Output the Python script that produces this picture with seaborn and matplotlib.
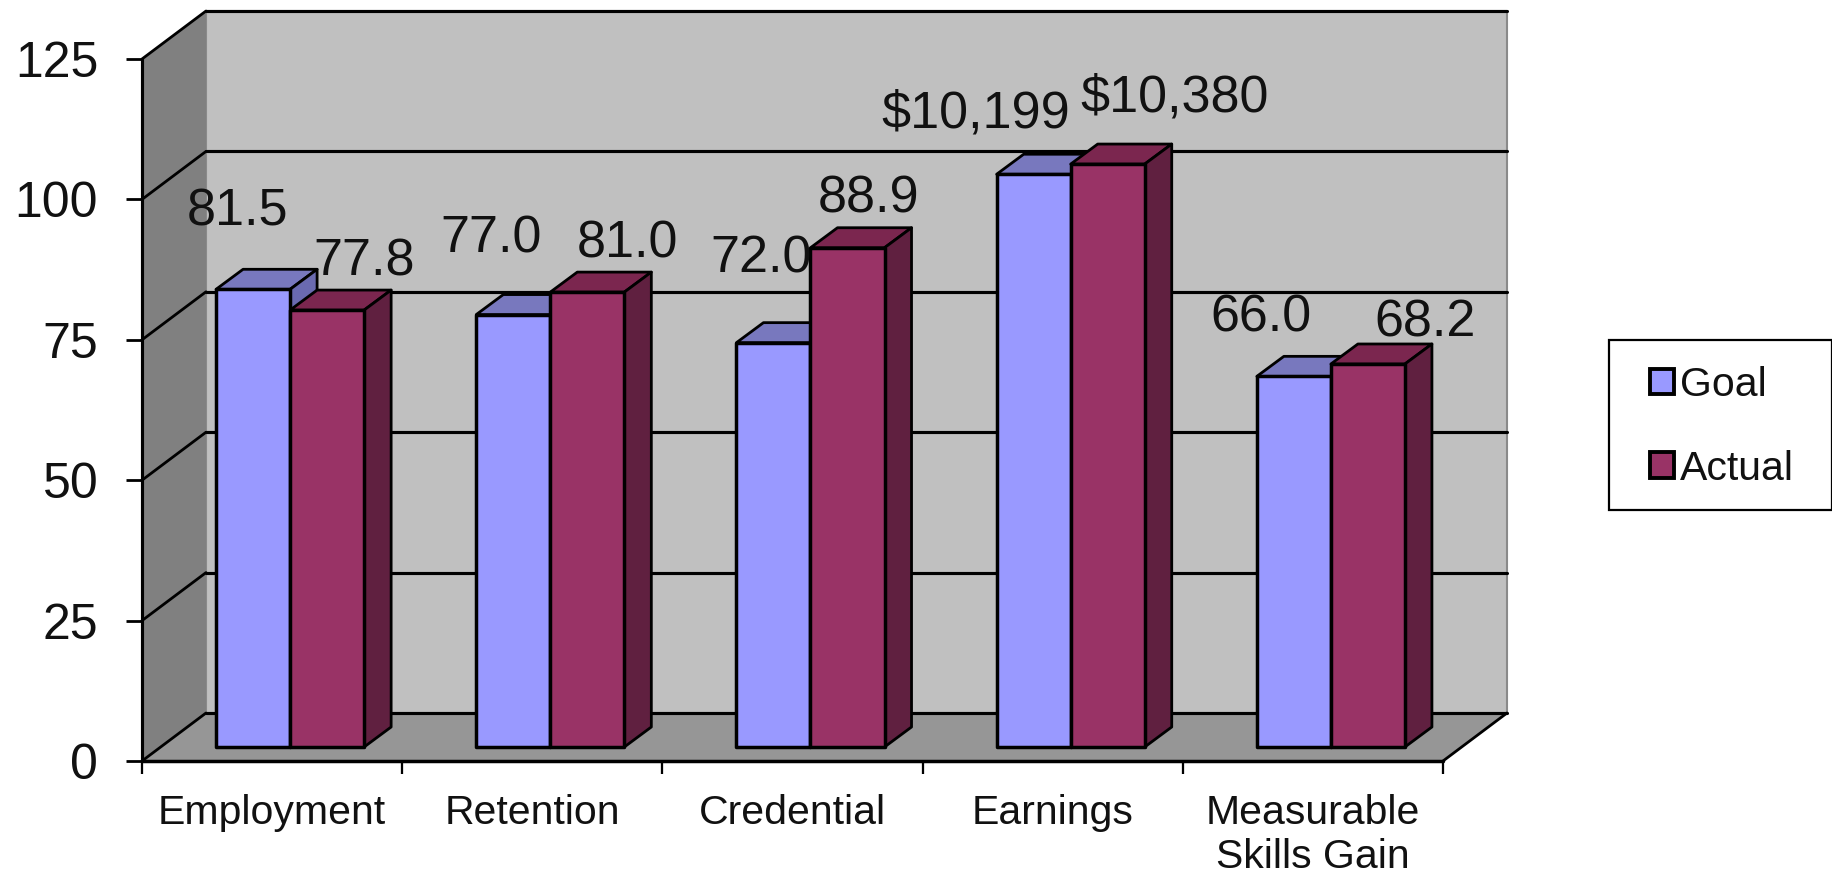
import matplotlib
matplotlib.use("Agg")
import matplotlib.pyplot as plt
import pandas as pd
import seaborn as sns
from matplotlib.lines import Line2D
from matplotlib.patches import Polygon, Rectangle
from matplotlib.transforms import Affine2D, IdentityTransform

# ---- data ----
categories = ["Employment", "Retention", "Credential", "Earnings", "Measurable\nSkills Gain"]
goal_values = [81.5, 77.0, 72.0, 101.99, 66.0]
actual_values = [77.8, 81.0, 88.9, 103.8, 68.2]
goal_labels = ["81.5", "77.0", "72.0", "$10,199", "66.0"]
actual_labels = ["77.8", "81.0", "88.9", "$10,380", "68.2"]
y_ticks = [0, 25, 50, 75, 100, 125]

# ---- style ----
goal_offsets = [(-16, 91), (-22, 90), (-12, 98), (-58, 74), (-33, 72)]
actual_offsets = [(37, 62), (40, 62), (21, 63), (67, 80), (57, 55)]
GOAL, GOAL_TOP, GOAL_SIDE = "#9999FF", "#7878BE", "#6A6AB0"
ACTUAL, ACTUAL_TOP, ACTUAL_SIDE = "#993366", "#7B264F", "#602040"
WALL, LEFT_WALL, FLOOR = "#C0C0C0", "#808080", "#969696"
LW = 2.5
W, H = 1833, 876
WALL_DX, WALL_DY = 64, 48          # depth of the chart box (px)
BAR_DX, BAR_DY = 18, 14            # bars stand this far behind the front plane (px)
BAR_DEPTH_X, BAR_DEPTH_Y = 27, 20  # depth of each bar (px)

sns.set_theme(style="white")
plt.rcParams["font.family"] = ["Liberation Sans", "DejaVu Sans"]

fig = plt.figure(figsize=(W / 100, H / 100), dpi=100, facecolor="white")
ax = fig.add_axes([142 / W, (H - 761) / H, 1301 / W, 702 / H])
ax.patch.set_visible(False)

df = pd.DataFrame({
    "category": categories * 2,
    "value": goal_values + actual_values,
    "series": ["Goal"] * len(categories) + ["Actual"] * len(categories),
})
sns.barplot(data=df, x="category", y="value", hue="series",
            palette={"Goal": GOAL, "Actual": ACTUAL}, saturation=1,
            width=0.569, gap=0, edgecolor="black", linewidth=LW,
            ax=ax, zorder=5, clip_on=False)
ax.set_xlim(-0.5, len(categories) - 0.5)
ax.set_ylim(0, 125)
ax.set_xlabel("")
ax.set_ylabel("")
for s in ax.spines.values():
    s.set_visible(False)


def front(x, y):
    return ax.transData.transform((x, y))


def back(x, y):
    px = front(x, y)
    return px[0] + WALL_DX, px[1] + WALL_DY


def poly(points, color, zorder, edge="none", lw=0):
    ax.add_patch(Polygon(points, closed=True, facecolor=color, edgecolor=edge, linewidth=lw,
                         transform=IdentityTransform(), clip_on=False, zorder=zorder,
                         joinstyle="round"))


def line(a, b, color="black", lw=LW, zorder=1):
    ax.add_line(Line2D([a[0], b[0]], [a[1], b[1]], color=color, linewidth=lw,
                       transform=IdentityTransform(), clip_on=False, zorder=zorder,
                       solid_capstyle="round"))


n = len(categories)
goal_bars = sorted(ax.containers[0], key=lambda b: b.get_x())
actual_bars = sorted(ax.containers[1], key=lambda b: b.get_x())

x0, x1 = ax.get_xlim()
top = y_ticks[-1]
# walls and floor
poly([back(x0, 0), back(x1, 0), back(x1, top), back(x0, top)], WALL, 0, edge="#8A8A8A", lw=1.5)
poly([front(x0, 0), back(x0, 0), back(x0, top), front(x0, top)], LEFT_WALL, 0.5)
poly([front(x0, 0), front(x1, 0), back(x1, 0), back(x0, 0)], FLOOR, 0.5)
for t in y_ticks:
    line(front(x0, t), back(x0, t), lw=LW * 0.8, zorder=1)
    line(back(x0, t), back(x1, t), lw=LW * 0.9, zorder=1)
line(front(x0, 0), front(x0, top), lw=LW * 0.9, zorder=2)
line(front(x0, 0), front(x1, 0), lw=LW, zorder=2)
line(front(x1, 0), back(x1, 0), lw=LW * 0.8, zorder=2)

# shift the seaborn bars back from the front plane and add their depth faces
shift = Affine2D().translate(BAR_DX, BAR_DY)


def depth_faces(bar, top_color, side_color, zorder):
    x, w, h = bar.get_x(), bar.get_width(), bar.get_height()
    off = (BAR_DX, BAR_DY)
    a = front(x, h) + off
    b = front(x + w, h) + off
    c = front(x + w, 0) + off
    d = (BAR_DEPTH_X, BAR_DEPTH_Y)
    poly([a, b, b + d, a + d], top_color, zorder, edge="black", lw=LW * 0.8)
    poly([b, c, c + d, b + d], side_color, zorder, edge="black", lw=LW * 0.8)


for bar in goal_bars:
    depth_faces(bar, GOAL_TOP, GOAL_SIDE, 3)
for bar in actual_bars:
    depth_faces(bar, ACTUAL_TOP, ACTUAL_SIDE, 3.5)
for bar in goal_bars + actual_bars:
    bar.set_transform(ax.transData + shift)
    bar.set_joinstyle("round")

# value labels, hand-placed as in the reference
for bars_, texts, offs in ((goal_bars, goal_labels, goal_offsets),
                           (actual_bars, actual_labels, actual_offsets)):
    for bar, text, off in zip(bars_, texts, offs):
        ax.annotate(text, (bar.get_x() + bar.get_width() / 2, bar.get_height()),
                    xytext=(BAR_DX + off[0], off[1]),
                    textcoords="offset pixels", ha="center", va="center",
                    fontsize=37.5, color="#111111", zorder=8, annotation_clip=False)

# axes ticks
ax.set_yticks(y_ticks)
ax.tick_params(axis="y", which="major", left=True, length=11.5, width=LW * 0.8, color="black",
               pad=20, labelsize=36, labelcolor="#111111")
ax.set_xticks(range(n))
ax.set_xticklabels(categories, linespacing=1.2)
ax.set_xticks([x0 + i for i in range(n + 1)], minor=True)
ax.tick_params(axis="x", which="major", bottom=False, length=0, pad=23.5, labelsize=29.5, labelcolor="#111111")
ax.tick_params(axis="x", which="minor", bottom=True, length=9.5, width=LW * 0.65, color="black")
ax.grid(False)

# legend: frame box plus native legend content
old = ax.get_legend()
handles, labels = ax.get_legend_handles_labels()
if old is not None:
    old.remove()
for h in handles:
    h.set_linewidth(2.8)
fig.add_artist(Rectangle((1609 / W, (H - 510) / H), (1832 - 1609) / W, 170 / H,
                         transform=fig.transFigure, facecolor="white", edgecolor="black",
                         linewidth=1.6, zorder=-1))
leg = ax.legend(handles, labels, loc="upper left",
                bbox_to_anchor=(1650 / W, (H - 366) / H),
                bbox_transform=fig.transFigure, fontsize=29.5, frameon=False,
                handlelength=0.58, handleheight=0.58, handletextpad=0.14,
                labelspacing=1.115, borderpad=0, borderaxespad=0, labelcolor="#111111")
leg.set_zorder(10)

fig.savefig("out.png", dpi=100)
